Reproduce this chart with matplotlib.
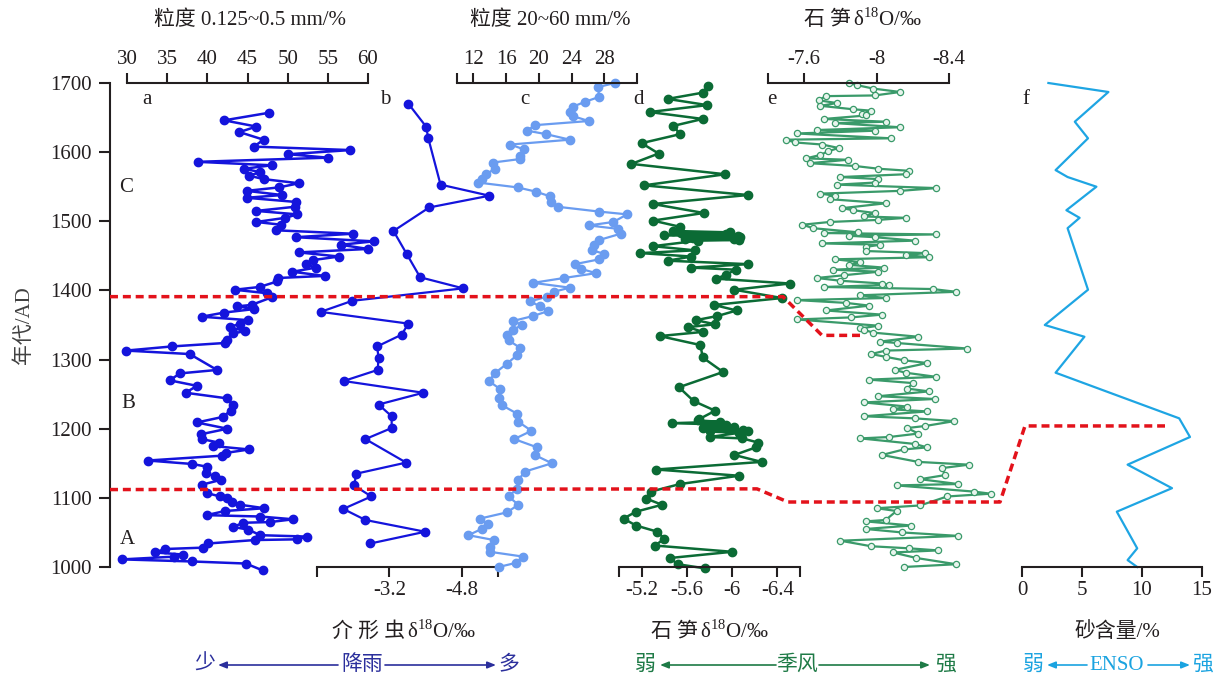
import matplotlib
matplotlib.use("Agg")
import matplotlib.pyplot as plt
from matplotlib.transforms import blended_transform_factory

plt.rcParams["font.family"] = ["Liberation Serif", "Noto Sans CJK SC", "DejaVu Sans"]
plt.rcParams["mathtext.fontset"] = "custom"
plt.rcParams["mathtext.rm"] = "Liberation Serif"
plt.rcParams["axes.unicode_minus"] = False

# a: grain size 0.125-0.5 mm (%)
a_year = [1657, 1646, 1637, 1629, 1618, 1608, 1603, 1597, 1592, 1586,
          1581, 1576, 1571, 1566, 1561, 1555, 1549, 1544, 1538, 1534,
          1528, 1521, 1515, 1510, 1505, 1499, 1495, 1487, 1482, 1477,
          1471, 1466, 1460, 1455, 1449, 1444, 1438, 1433, 1427, 1421,
          1418, 1413, 1405, 1401, 1396, 1390, 1379, 1377, 1373, 1368,
          1362, 1357, 1352, 1347, 1341, 1338, 1329, 1324, 1319, 1313,
          1308, 1285, 1280, 1270, 1262, 1252, 1244, 1234, 1226, 1217,
          1209, 1200, 1192, 1185, 1180, 1175, 1170, 1165, 1161, 1154,
          1149, 1145, 1136, 1131, 1126, 1119, 1107, 1102, 1100, 1094,
          1090, 1085, 1081, 1075, 1073, 1069, 1065, 1064, 1058, 1054,
          1046, 1044, 1040, 1039, 1034, 1028, 1026, 1021, 1018, 1015,
          1011, 1008, 1005, 995]
a_val = [47.7, 42.1, 46.1, 44.0, 47.0, 45.8, 57.8, 50.1, 55.0, 38.8,
         48.0, 44.6, 46.6, 45.2, 47.0, 51.4, 48.9, 44.9, 49.3, 44.9,
         51.0, 50.9, 46.1, 51.2, 49.7, 46.1, 49.2, 48.5, 58.1, 51.0,
         60.7, 56.6, 60.0, 51.4, 56.4, 53.2, 52.3, 53.5, 50.6, 54.6,
         48.8, 48.7, 46.5, 43.4, 47.4, 48.0, 45.5, 43.7, 45.8, 42.1,
         39.3, 45.1, 44.1, 42.8, 44.7, 43.2, 42.4, 42.2, 35.6, 29.9,
         37.8, 41.2, 36.6, 35.3, 38.7, 37.3, 42.4, 43.2, 42.9, 41.9,
         38.7, 42.5, 39.2, 39.3, 41.4, 40.7, 45.2, 42.3, 41.8, 32.6,
         38.1, 40.0, 39.8, 41.0, 41.7, 39.3, 39.9, 41.6, 42.4, 43.1,
         44.1, 47.1, 42.2, 39.9, 46.6, 50.7, 47.8, 44.5, 43.2, 45.1,
         46.6, 52.4, 51.1, 45.9, 40.1, 39.5, 34.7, 33.5, 37.0, 35.9,
         29.4, 38.1, 44.8, 46.9]

# b: ostracod d18O (permil)
b_year = [1670, 1637, 1620, 1553, 1537, 1520, 1486, 1453, 1419, 1403,
          1385, 1369, 1352, 1336, 1319, 1302, 1285, 1269, 1252, 1235,
          1218, 1201, 1185, 1151, 1135, 1118, 1102, 1084, 1068, 1051, 1034]
b_val = [-3.62, -4.01, -4.06, -4.33, -5.41, -4.08, -3.29, -3.58, -3.88, -4.83,
         -2.38, -1.68, -3.62, -3.47, -2.93, -2.96, -2.94, -2.19, -3.95, -2.96,
         -3.25, -3.25, -2.67, -3.57, -2.47, -2.42, -2.80, -2.18, -2.67, -3.99, -2.78]

# c: grain size 20-60 (%)
c_year = [1700, 1694, 1680, 1673, 1666, 1658, 1652, 1645, 1639, 1631,
          1626, 1618, 1611, 1604, 1595, 1590, 1585, 1576, 1568, 1561,
          1556, 1549, 1543, 1536, 1528, 1521, 1514, 1510, 1499, 1494,
          1489, 1482, 1473, 1465, 1458, 1453, 1445, 1438, 1431, 1425,
          1418, 1411, 1404, 1398, 1391, 1384, 1377, 1370, 1363, 1356,
          1350, 1343, 1336, 1328, 1317, 1306, 1294, 1281, 1269, 1257,
          1245, 1234, 1222, 1210, 1197, 1185, 1173, 1162, 1150, 1138,
          1126, 1113, 1102, 1090, 1079, 1070, 1062, 1055, 1046, 1039,
          1029, 1022, 1015, 1006, 1000]
c_val = [29.3, 27.2, 27.4, 25.7, 24.2, 23.8, 24.2, 26.1, 19.5, 18.6,
         20.9, 23.8, 16.5, 18.2, 17.7, 17.7, 14.4, 14.6, 13.6, 13.0,
         12.6, 17.4, 19.6, 21.4, 21.5, 22.3, 27.4, 30.8, 29.1, 26.1,
         29.7, 30.0, 27.4, 26.7, 26.5, 28.0, 27.4, 24.4, 25.2, 27.0,
         23.1, 19.3, 23.8, 21.8, 21.0, 18.9, 20.2, 21.1, 19.3, 16.9,
         17.9, 16.9, 16.1, 16.3, 17.7, 17.3, 16.1, 14.7, 13.9, 15.3,
         15.1, 15.5, 17.3, 17.5, 19.1, 17.0, 19.8, 19.5, 21.6, 18.3,
         17.5, 17.3, 16.3, 17.5, 16.1, 12.8, 13.8, 13.0, 11.4, 14.5,
         14.0, 14.0, 18.1, 17.2, 15.1]

# d: stalagmite d18O (permil)
d_year = [1696, 1686, 1677, 1668, 1658, 1648, 1638, 1626, 1613, 1598,
          1583, 1568, 1552, 1538, 1525, 1512, 1501, 1492, 1486, 1484,
          1483, 1481, 1480, 1479, 1478, 1477, 1476, 1475, 1474, 1473,
          1472, 1464, 1458, 1454, 1449, 1443, 1438, 1433, 1430, 1423,
          1417, 1410, 1401, 1389, 1379, 1371, 1363, 1357, 1351, 1347,
          1340, 1334, 1321, 1303, 1282, 1260, 1240, 1226, 1214, 1212,
          1210, 1208, 1206, 1205, 1204, 1203, 1201, 1200, 1199, 1198,
          1197, 1196, 1194, 1188, 1186, 1180, 1173, 1162, 1152, 1141,
          1132, 1120, 1109, 1099, 1090, 1080, 1070, 1060, 1051, 1041,
          1031, 1022, 1013, 1004, 998]
d_val = [-5.79, -5.74, -5.43, -5.78, -5.27, -5.74, -5.48, -5.54, -5.20, -5.35,
         -5.11, -5.94, -5.22, -6.14, -5.30, -5.75, -5.30, -5.54, -5.48, -5.98,
         -5.55, -5.95, -5.40, -6.05, -5.60, -6.07, -5.65, -6.02, -5.58, -6.06,
         -5.70, -5.30, -5.67, -5.19, -5.64, -5.43, -6.14, -5.64, -6.03, -5.95,
         -5.86, -6.51, -6.02, -6.44, -5.84, -6.04, -5.87, -5.68, -5.85, -5.61,
         -5.74, -5.36, -5.72, -5.74, -5.92, -5.53, -5.66, -5.85, -5.71, -5.70,
         -5.89, -5.47, -5.95, -5.76, -5.78, -6.02, -5.74, -5.80, -5.99, -6.10,
         -6.14, -5.80, -6.06, -5.80, -6.09, -6.23, -6.21, -6.02, -6.26, -5.33,
         -6.06, -5.54, -5.28, -5.24, -5.38, -5.15, -5.04, -5.15, -5.34, -5.40,
         -5.32, -6.00, -5.45, -5.52, -5.76]

# e: stalagmite d18O (permil), second record
e_year = [1700, 1697, 1692, 1687, 1682, 1681, 1675, 1671, 1667, 1662,
          1660, 1655, 1653, 1648, 1644, 1642, 1636, 1632, 1631, 1627,
          1620, 1618, 1614, 1611, 1606, 1601, 1596, 1591, 1589, 1584,
          1580, 1576, 1573, 1568, 1564, 1561, 1556, 1553, 1548, 1544,
          1540, 1537, 1532, 1526, 1519, 1516, 1512, 1507, 1505, 1502,
          1499, 1495, 1490, 1484, 1483, 1481, 1479, 1477, 1472, 1468,
          1466, 1463, 1457, 1454, 1451, 1448, 1445, 1441, 1437, 1433,
          1430, 1427, 1422, 1418, 1414, 1410, 1408, 1405, 1402, 1398,
          1393, 1389, 1386, 1382, 1378, 1371, 1365, 1361, 1358, 1349,
          1345, 1343, 1339, 1333, 1326, 1324, 1316, 1313, 1308, 1304,
          1299, 1295, 1285, 1281, 1275, 1271, 1266, 1258, 1254, 1247,
          1243, 1238, 1232, 1228, 1225, 1218, 1215, 1211, 1204, 1201,
          1193, 1188, 1186, 1178, 1173, 1170, 1162, 1152, 1148, 1143,
          1133, 1127, 1120, 1118, 1109, 1106, 1102, 1089, 1085, 1081,
          1068, 1066, 1060, 1055, 1050, 1045, 1038, 1030, 1027, 1024,
          1021, 1013, 1004, 1000]
e_val = [-7.85, -7.89, -7.98, -8.13, -7.99, -7.72, -7.68, -7.78, -7.69, -7.87,
         -7.97, -7.92, -7.94, -7.71, -8.05, -7.77, -8.13, -7.67, -7.99, -7.56,
         -8.08, -7.50, -7.55, -7.70, -7.79, -7.73, -7.69, -7.61, -7.84, -7.63,
         -7.88, -8.01, -8.18, -8.16, -7.80, -8.01, -7.99, -7.78, -8.33, -8.13,
         -7.69, -7.77, -7.74, -8.05, -7.81, -7.87, -7.99, -7.93, -8.16, -8.01,
         -7.74, -7.59, -7.65, -7.90, -7.71, -8.33, -7.85, -7.99, -8.21, -7.70,
         -8.02, -7.94, -7.94, -8.27, -8.16, -8.29, -7.77, -7.91, -7.85, -8.04,
         -7.76, -8.01, -7.82, -7.67, -7.80, -8.03, -8.07, -7.71, -8.31, -8.44,
         -7.91, -8.05, -7.56, -7.83, -7.96, -7.72, -8.03, -7.86, -7.56, -8.01,
         -7.91, -7.93, -7.98, -8.23, -8.02, -8.11, -8.50, -8.05, -7.97, -8.05,
         -8.15, -8.28, -8.10, -8.16, -8.33, -7.96, -8.20, -8.17, -8.29, -8.01,
         -8.32, -7.93, -8.17, -8.09, -8.28, -7.93, -8.21, -8.43, -8.27, -8.17,
         -8.23, -8.07, -7.91, -8.21, -8.28, -8.15, -8.03, -8.23, -8.51, -8.36,
         -8.38, -8.24, -8.45, -8.11, -8.54, -8.63, -8.39, -8.24, -8.00, -8.11,
         -8.05, -7.94, -8.19, -7.94, -8.14, -8.45, -7.80, -7.97, -8.18, -8.34,
         -8.09, -8.22, -8.44, -8.15]

# f: sand content (%)
f_year = [1700, 1687, 1644, 1620, 1574, 1564, 1550, 1516, 1505, 1490, 1401,
          1350, 1333, 1281, 1215, 1188, 1148, 1114, 1080, 1027, 1010, 1000]
f_val = [2.2, 7.2, 4.4, 5.5, 2.8, 3.8, 6.2, 3.7, 4.8, 3.8, 5.5,
         1.9, 5.2, 2.8, 13.1, 14.0, 8.8, 12.5, 7.9, 9.6, 8.8, 9.6]

# stage boundaries (years) drawn as red dashed lines
upper_bound_year = [1391, 1391, 1335, 1335]
lower_bound_year = [1112, 1113, 1094, 1094, 1204, 1204]

W, H = 1214, 680
TOP, BOT = 83, 567
INK = "#231f20"

fig = plt.figure(figsize=(W / 100, H / 100), dpi=100)


def panel(x0, x1):
    ax = fig.add_axes([x0 / W, 1 - BOT / H, (x1 - x0) / W, (BOT - TOP) / H])
    ax.set_ylim(1000, 1700)
    ax.patch.set_visible(False)
    for s in ax.spines.values():
        s.set_visible(False)
    ax.set_yticks([])
    return ax


def x_scale(ax, side, lim, ticks, labels):
    ax.set_xlim(*lim)
    ax.spines[side].set_visible(True)
    ax.spines[side].set_color(INK)
    ax.spines[side].set_linewidth(1.5)
    ax.xaxis.set_ticks_position(side)
    ax.set_xticks(ticks)
    ax.set_xticklabels(labels)
    ax.tick_params(axis="x", direction="out", length=7.5, width=1.5,
                   colors=INK, labelsize=15, pad=2.5)


# main age axis
ax_y = panel(110, 111)
ax_y.spines["left"].set_visible(True)
ax_y.spines["left"].set_color(INK)
ax_y.spines["left"].set_linewidth(1.5)
ax_y.set_yticks(range(1000, 1701, 100))
ax_y.set_xticks([])
ax_y.tick_params(axis="y", direction="out", length=8, width=1.5,
                 colors=INK, labelsize=15, pad=5)

ax_a = panel(127, 368)
x_scale(ax_a, "top", (30, 60), [30, 35, 40, 45, 50, 55, 60],
        ["30", "35", "40", "45", "50", "55", "60"])
ax_a.plot(a_val, a_year, color="#1414dc", lw=1.8, marker="o", ms=6, clip_on=False)

ax_b = panel(317, 498)
x_scale(ax_b, "bottom", (-1.6, -5.6), [-1.6, -3.2, -4.8, -5.6], ["", "-3.2", "-4.8", ""])
ax_b.plot(b_val, b_year, color="#1414dc", lw=1.6, marker="o", ms=6, clip_on=False)

ax_c = panel(457, 637)
x_scale(ax_c, "top", (10, 32), [10, 12, 16, 20, 24, 28, 32],
        ["", "12", "16", "20", "24", "28", ""])
ax_c.plot(c_val, c_year, color="#6a9cf0", lw=1.6, marker="o", ms=6, clip_on=False)

ax_d = panel(619, 800)
x_scale(ax_d, "bottom", (-5.0, -6.6), [-5.0, -5.2, -5.6, -6.0, -6.4, -6.6],
        ["", "-5.2", "-5.6", "-6", "-6.4", ""])
ax_d.plot(d_val, d_year, color="#0b6b35", lw=1.8, marker="o", ms=6, clip_on=False)

ax_e = panel(768, 949)
x_scale(ax_e, "top", (-7.4, -8.4), [-7.4, -7.6, -8.0, -8.4], ["", "-7.6", "-8", "-8.4"])
ax_e.plot(e_val, e_year, color="#3a9a6a", lw=1.6, marker="o", ms=4.5,
          mfc="#e8f4ed", mec="#3a9a6a", mew=0.9, clip_on=False)

ax_f = panel(1022, 1202)
x_scale(ax_f, "bottom", (0, 15), [0, 5, 10, 15], ["0", "5", "10", "15"])
ax_f.plot(f_val, f_year, color="#1ea5e3", lw=1.6, clip_on=False)

# overlay in pixel units for texts, arrows and boundary lines
ov = fig.add_axes([0, 0, 1, 1], zorder=10)
ov.set_xlim(0, W)
ov.set_ylim(H, 0)
ov.axis("off")
ov.patch.set_visible(False)

tr = blended_transform_factory(ov.transData, ax_y.transData)
red = dict(color="#e3121b", lw=2.5, ls=(0, (2.3, 1.4)), transform=tr, clip_on=False)
ov.plot([110, 783, 822, 860], upper_bound_year, **red)
ov.plot([110, 757, 788, 1000, 1025, 1165], lower_bound_year, **red)

fs = 15
sup = r"δ$^{\mathregular{18}}$O/‰"


def d18_label(cjk, x_join, y):
    # CJK part and the isotope part are separate texts so the CJK font is kept
    ov.text(x_join, y, cjk, ha="right", va="center", fontsize=fs, color=INK)
    ov.text(x_join + 2, y, sup, ha="left", va="center", fontsize=fs, color=INK)


ov.text(250, 20, "粒度 0.125~0.5 mm/%", ha="center", va="center", fontsize=fs, color=INK)
ov.text(550, 20, "粒度 20~60 mm/%", ha="center", va="center", fontsize=fs, color=INK)
d18_label("石 笋", 851, 20)
d18_label("介 形 虫", 405, 632)
d18_label("石 笋", 698, 632)
ov.text(1117, 632, "砂含量/%", ha="center", va="center", fontsize=fs, color=INK)
ov.text(24, 325, "年代/AD", ha="center", va="center", rotation=90, fontsize=fs, color="#404040")

for lab, x, y in [("a", 147, 100), ("b", 385, 100), ("c", 525, 100), ("d", 638, 100),
                  ("e", 772, 100), ("f", 1026, 100),
                  ("C", 126, 187), ("B", 128, 403), ("A", 127, 540)]:
    ov.text(x, y, lab, ha="center", va="center", fontsize=fs, color=INK)


def arrow(x0, x1, y, color):
    ov.annotate("", xy=(x1, y), xytext=(x0, y),
                arrowprops=dict(arrowstyle="-|>,head_length=0.5,head_width=0.2",
                                color=color, lw=1.2, shrinkA=0, shrinkB=0))


ya = 665
rain_c = "#2b2f9c"
ov.text(205, ya, "少", ha="center", va="center", fontsize=fs, color=rain_c)
ov.text(362, ya, "降雨", ha="center", va="center", fontsize=fs, color=rain_c)
ov.text(509, ya, "多", ha="center", va="center", fontsize=fs, color=rain_c)
arrow(338, 218, ya, rain_c)
arrow(385, 496, ya, rain_c)

mon_c = "#1e7a46"
ov.text(645, ya, "弱", ha="center", va="center", fontsize=fs, color=mon_c)
ov.text(797, ya, "季风", ha="center", va="center", fontsize=fs, color=mon_c)
ov.text(945, ya, "强", ha="center", va="center", fontsize=fs, color=mon_c)
arrow(776, 660, ya, mon_c)
arrow(819, 930, ya, mon_c)

enso_c = "#1aa3e0"
ov.text(1033, ya, "弱", ha="center", va="center", fontsize=fs, color=enso_c)
ov.text(1117, ya, "ENSO", ha="center", va="center", fontsize=fs, color=enso_c)
ov.text(1202, ya, "强", ha="center", va="center", fontsize=fs, color=enso_c)
arrow(1087, 1047, ya, enso_c)
arrow(1148, 1190, ya, enso_c)

fig.savefig("out.png", dpi=100)
